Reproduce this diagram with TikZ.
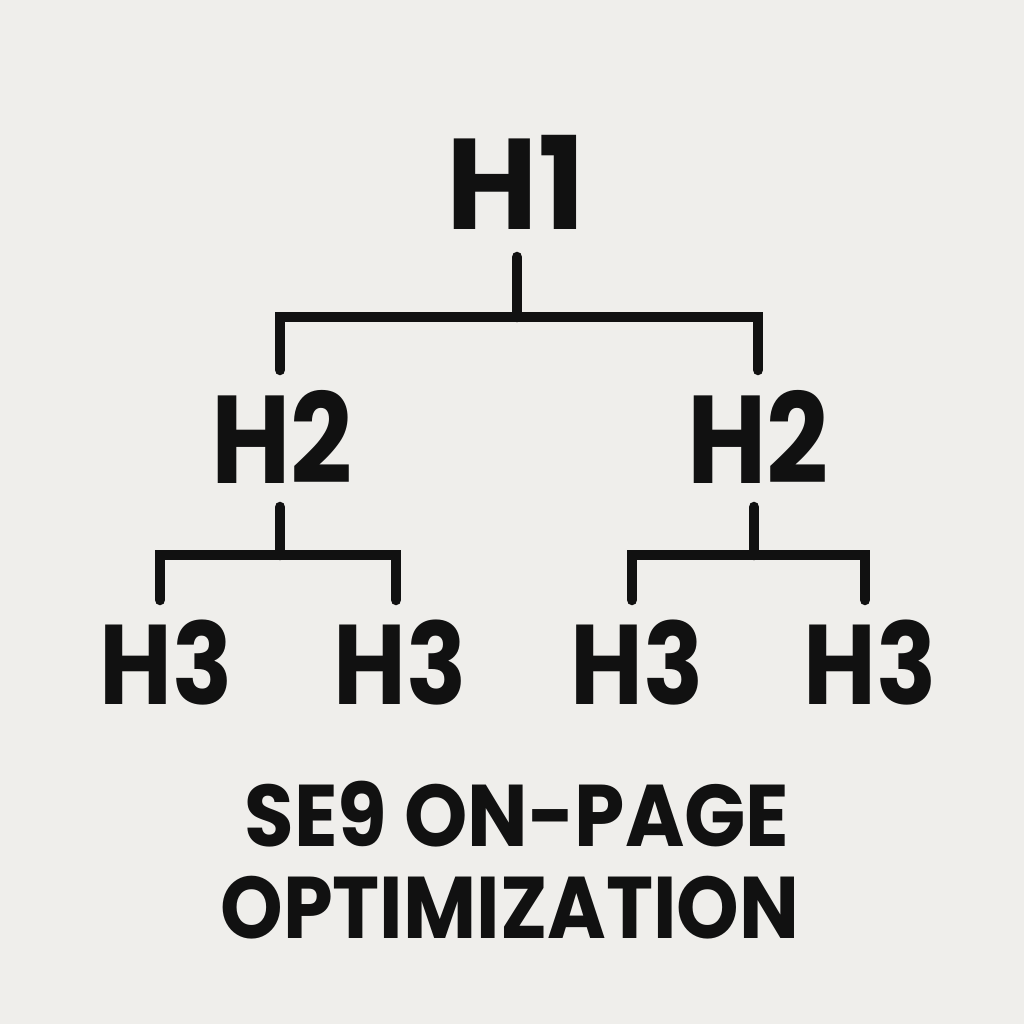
\documentclass[tikz,border=0pt]{standalone}
\usepackage{graphicx}
\usepackage{fontspec}
\setmainfont{Poppins}
\usetikzlibrary{positioning}
\definecolor{paper}{HTML}{EFEEEB}
\definecolor{ink}{HTML}{111111}
\newcommand{\squeeze}[2]{\scalebox{#1}[1]{#2}}
\begin{document}
\begin{tikzpicture}[x=0.01cm,y=-0.01cm,%
% common options for the headings:
head/.style = {font=\bfseries\fontsize{36.7}{40}\selectfont, text=ink, inner sep=0},
subhead/.style = {font=\bfseries\fontsize{35.5}{40}\selectfont, text=ink, inner sep=0},
leaf/.style = {font=\bfseries\fontsize{32.2}{36}\selectfont, text=ink, inner sep=0},
caption/.style = {font=\bfseries\fontsize{24.9}{28}\selectfont, text=ink, inner sep=0},
% common options for the tree lines:
branch/.style = {draw=ink, line width=3pt, line cap=round, line join=miter}]
\fill[paper] (0,0) rectangle (1024,1024);
\node[head] (h1) at (516,182) {\squeeze{0.97}{H1}};
\node[subhead] (h2a) at (282,437) {\squeeze{0.87}{H2}};
\node[subhead] (h2b) at (758,437) {\squeeze{0.87}{H2}};
\node[leaf] (h3a) at (166,663) {\squeeze{0.88}{H3}};
\node[leaf] (h3b) at (400,663) {\squeeze{0.88}{H3}};
\node[leaf] (h3c) at (637,663) {\squeeze{0.88}{H3}};
\node[leaf] (h3d) at (870,663) {\squeeze{0.88}{H3}};
\node[caption] (t1) at (517,814) {\squeeze{0.92}{SE9 ON-PAGE}};
\node[caption] (t2) at (510,908) {\squeeze{0.91}{OPTIMIZATION}};
% joints of the tree
\coordinate (h1d) at (517,257);
\coordinate (h1j) at (517,317);
\coordinate (h2au) at (280,370);
\coordinate (h2bu) at (758,370);
\coordinate (h2ad) at (280,507);
\coordinate (h2aj) at (280,555);
\coordinate (h3au) at (160,600);
\coordinate (h3bu) at (396,600);
\coordinate (h2bd) at (754,507);
\coordinate (h2bj) at (754,555);
\coordinate (h3cu) at (632,600);
\coordinate (h3du) at (865,600);
\draw[branch] (h1d) -- (h1j);
\draw[branch] (h2au) |- (h1j) -| (h2bu);
\draw[branch] (h2ad) -- (h2aj);
\draw[branch] (h3au) |- (h2aj) -| (h3bu);
\draw[branch] (h2bd) -- (h2bj);
\draw[branch] (h3cu) |- (h2bj) -| (h3du);
\end{tikzpicture}
\end{document}
